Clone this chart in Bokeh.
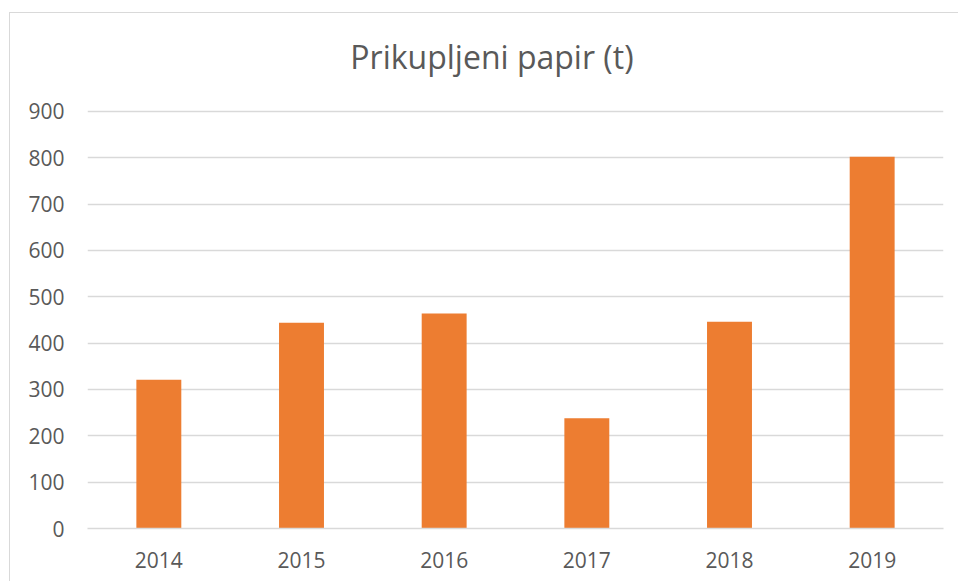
from bokeh.plotting import figure
from bokeh.models import Range1d, Label
from bokeh.embed import file_html
from bokeh.resources import INLINE

years = ["2014", "2015", "2016", "2017", "2018", "2019"]
values = [321, 444, 464, 238, 446, 802]
y_ticks = [0, 100, 200, 300, 400, 500, 600, 700, 800, 900]
title_text = "Prikupljeni papir (t)"

GREY_TXT = "#595959"
GRID = "#d9d9d9"
BAR = "#ED7D31"

# the frame reaches up to the chart's top edge so the title can sit inside it
p = figure(
    x_range=years,
    y_range=Range1d(0, 1111),
    width=949,
    height=569,
    output_backend="svg",
    toolbar_location=None,
    min_border_left=77,
    min_border_right=16,
    min_border_top=0,
    min_border_bottom=54,
)
p.margin = (12, 0, 0, 9)
p.styles = {"border-left": "1px solid #d9d9d9", "border-top": "1px solid #d9d9d9"}

title = Label(
    x=2.835,
    y=1019,
    text=title_text,
    text_align="center",
    text_baseline="alphabetic",
    text_font="Open Sans",
    text_font_size="32px",
    text_color=GREY_TXT,
)
p.add_layout(title)

p.vbar(x=years, top=values, width=0.315, color=BAR, line_color=None)

p.outline_line_color = None
p.background_fill_color = "white"
p.border_fill_color = "white"

p.xgrid.grid_line_color = None
p.ygrid.grid_line_color = GRID
p.ygrid.grid_line_width = 1.5

p.yaxis.ticker = y_ticks
p.yaxis.axis_line_color = None
p.yaxis.major_tick_line_color = None
p.yaxis.minor_tick_line_color = None
p.yaxis.major_tick_out = 0
p.yaxis.major_tick_in = 0
p.yaxis.major_label_standoff = 23
p.yaxis.major_label_text_font = "Open Sans"
p.yaxis.major_label_text_font_size = "21px"
p.yaxis.major_label_text_color = GREY_TXT

p.xaxis.axis_line_color = GRID
p.xaxis.axis_line_width = 1.5
p.xaxis.major_tick_line_color = None
p.xaxis.minor_tick_line_color = None
p.xaxis.major_tick_out = 0
p.xaxis.major_tick_in = 0
p.xaxis.major_label_standoff = 23
p.xaxis.major_label_text_font = "Open Sans"
p.xaxis.major_label_text_font_size = "21px"
p.xaxis.major_label_text_color = GREY_TXT

open("out.html", "w").write(file_html(p, INLINE))
